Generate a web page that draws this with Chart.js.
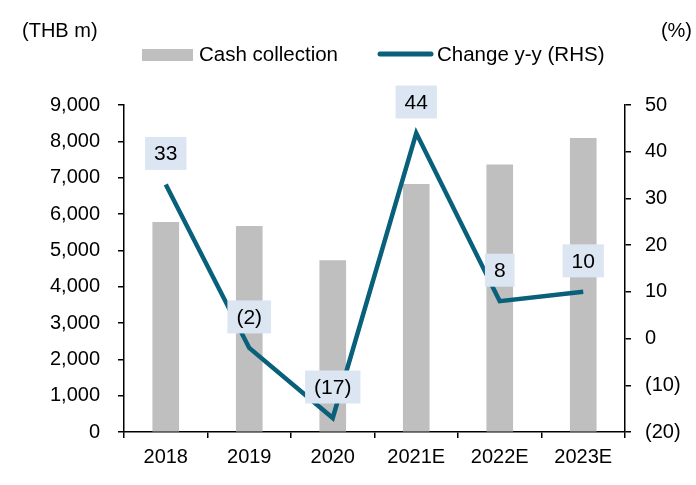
<!DOCTYPE html>
<html>
<head>
<meta charset="utf-8">
<script src="https://cdn.jsdelivr.net/npm/chart.js@4/dist/chart.umd.min.js"></script>
<style>
html,body{margin:0;padding:0;background:#fff;}
#wrap{width:696px;height:485px;position:relative;}
</style>
</head>
<body>
<div id="wrap"><canvas id="c" width="696" height="485"></canvas></div>
<script>
const categories = ['2018','2019','2020','2021E','2022E','2023E'];
const cashCollection = [5770, 5660, 4715, 6815, 7355, 8080];
const changeYoY = [33, -2, -17, 44, 8, 10];
const leftTicks = [0,1000,2000,3000,4000,5000,6000,7000,8000,9000];
const rightTicks = [-20,-10,0,10,20,30,40,50];
const seriesNames = ['Cash collection', 'Change y-y (RHS)'];
const leftUnit = '(THB m)';
const rightUnit = '(%)';

const FONT = 'Arial, "Liberation Sans", sans-serif';
const BAR_COLOR = '#BFBFBF';
const LINE_COLOR = '#08607A';
const LABEL_BG = '#DCE6F2';

function fmtPct(v){ return v < 0 ? '(' + Math.abs(v) + ')' : String(v); }

const labelPlugin = {
  id: 'boxLabels',
  afterDatasetsDraw(chart){
    const ctx = chart.ctx;
    const meta = chart.getDatasetMeta(1);
    ctx.save();
    ctx.font = '21px ' + FONT;
    ctx.textAlign = 'center';
    ctx.textBaseline = 'middle';
    meta.data.forEach((el, i) => {
      const txt = fmtPct(changeYoY[i]);
      const w = ctx.measureText(txt).width + 18;
      const h = 33;
      const cx = el.x, cy = el.y - 31;
      ctx.fillStyle = LABEL_BG;
      ctx.fillRect(cx - w/2, cy - h/2, w, h);
      ctx.fillStyle = '#000';
      ctx.fillText(txt, cx, cy + 1);
    });
    ctx.restore();
  },
  afterDraw(chart){
    const ctx = chart.ctx;
    ctx.save();
    ctx.fillStyle = '#000';
    ctx.font = '20px ' + FONT;
    ctx.textBaseline = 'middle';
    ctx.textAlign = 'left';
    ctx.fillText(leftUnit, 22, 31);
    ctx.textAlign = 'right';
    ctx.fillText(rightUnit, 692, 31);
    // legend
    ctx.font = '20.5px ' + FONT;
    ctx.textAlign = 'left';
    ctx.fillStyle = BAR_COLOR;
    ctx.fillRect(142, 49, 51, 12);
    ctx.fillStyle = '#000';
    ctx.fillText(chart.data.datasets[0].label, 199, 55);
    ctx.strokeStyle = LINE_COLOR;
    ctx.lineWidth = 5;
    ctx.lineCap = 'round';
    ctx.beginPath();
    ctx.moveTo(380, 54);
    ctx.lineTo(431, 54);
    ctx.stroke();
    ctx.fillText(chart.data.datasets[1].label, 437, 55);
    ctx.restore();
  }
};

new Chart(document.getElementById('c'), {
  data: {
    labels: categories,
    datasets: [
      {
        type: 'bar',
        label: seriesNames[0],
        data: cashCollection,
        backgroundColor: BAR_COLOR,
        borderWidth: 0,
        barThickness: 26,
        yAxisID: 'y',
        order: 2
      },
      {
        type: 'line',
        label: seriesNames[1],
        data: changeYoY,
        borderColor: LINE_COLOR,
        backgroundColor: LINE_COLOR,
        borderWidth: 4.5,
        pointRadius: 0,
        pointHoverRadius: 0,
        tension: 0,
        yAxisID: 'y1',
        order: 1
      }
    ]
  },
  options: {
    responsive: false,
    animation: false,
    events: [],
    layout: { padding: { top: 105, left: 0, right: 0, bottom: 0 } },
    plugins: { legend: { display: false }, title: { display: false }, tooltip: { enabled: false } },
    scales: {
      x: {
        type: 'category',
        offset: true,
        grid: { display: true, drawOnChartArea: false, drawTicks: true, tickLength: 6, color: '#000', lineWidth: 1.5, offset: true },
        border: { display: true, color: '#000', width: 1.5 },
        ticks: { color: '#000', font: { family: FONT, size: 20 }, padding: 7, maxRotation: 0 },
        afterFit(s){ s.height = 53; }
      },
      y: {
        position: 'left',
        min: 0, max: 9000,
        afterBuildTicks(s){ s.ticks = leftTicks.map(v => ({ value: v })); },
        grid: { display: true, drawOnChartArea: false, drawTicks: true, tickLength: 6, color: '#000', lineWidth: 1.5 },
        border: { display: true, color: '#000', width: 1.5 },
        ticks: { color: '#000', font: { family: FONT, size: 20 }, padding: 18,
          callback: v => v.toLocaleString('en-US') },
        afterFit(s){ s.width = 124; }
      },
      y1: {
        position: 'right',
        min: -20, max: 50,
        afterBuildTicks(s){ s.ticks = rightTicks.map(v => ({ value: v })); },
        grid: { display: true, drawOnChartArea: false, drawTicks: true, tickLength: 6, color: '#000', lineWidth: 1.5 },
        border: { display: true, color: '#000', width: 1.5 },
        ticks: { color: '#000', font: { family: FONT, size: 20 }, padding: 14, callback: v => fmtPct(v) },
        afterFit(s){ s.width = 71; }
      }
    }
  },
  plugins: [labelPlugin]
});
</script>
</body>
</html>
